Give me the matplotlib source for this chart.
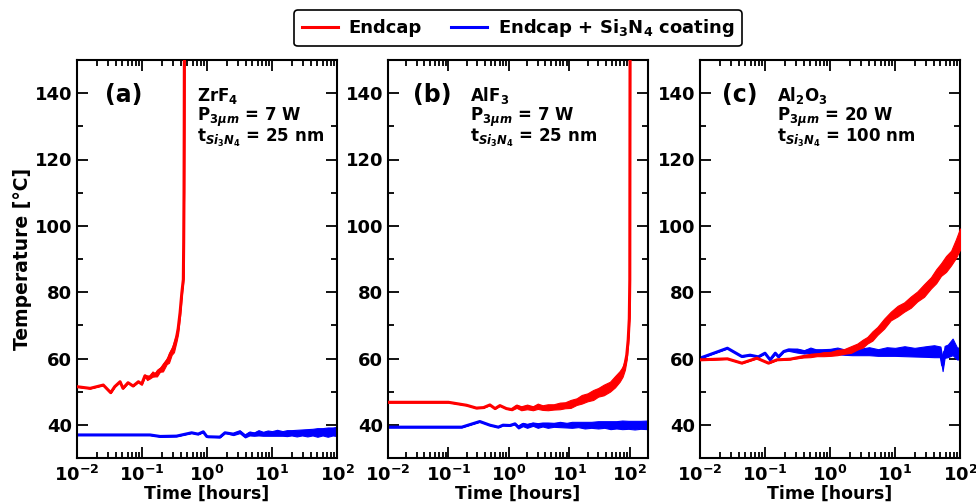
import numpy as np
import matplotlib
matplotlib.use("Agg")
import matplotlib.pyplot as plt
from matplotlib.ticker import LogLocator, MultipleLocator, NullFormatter

plt.rcParams['font.family'] = ['DejaVu Sans']
plt.rcParams['font.weight'] = 'bold'
plt.rcParams['axes.labelweight'] = 'bold'
plt.rcParams['mathtext.fontset'] = 'custom'
plt.rcParams['mathtext.default'] = 'regular'
plt.rcParams['mathtext.rm'] = 'DejaVu Sans:bold'
plt.rcParams['mathtext.bf'] = 'DejaVu Sans:bold'
plt.rcParams['mathtext.it'] = 'DejaVu Sans:italic:bold'

# ---------------- data ----------------
# T = centre temperature, W = half-width of the noisy band
# Panel (a) ZrF4
a_red_t = [0.01, 0.0159, 0.0254, 0.033, 0.038, 0.046, 0.051, 0.061, 0.073, 0.088, 0.099,
           0.111, 0.12, 0.133, 0.145, 0.158, 0.17, 0.189, 0.21, 0.24, 0.26, 0.286, 0.31,
           0.342, 0.36, 0.385, 0.41, 0.432, 0.438, 0.443, 0.446, 0.448, 0.45]
a_red_T = [51.5, 51.0, 52.0, 49.7, 51.5, 53.0, 51.0, 52.7, 51.7, 53.0, 52.3,
           54.8, 54.2, 54.4, 55.3, 55.1, 55.6, 56.6, 57.3, 59.1, 60.2, 62.1, 63.5,
           66.6, 69.0, 73.8, 79.8, 83.8, 95.0, 110.0, 130.0, 150.0, 160.0]
a_red_W = [0, 0, 0, 0, 0, 0, 0, 0, 0, 0, 0.2,
           0.3, 0.7, 0.4, 0.8, 0.5, 1.0, 0.6, 1.2, 0.8, 1.5, 1.0, 1.6,
           1.2, 1.4, 1.0, 0.8, 0.5, 0, 0, 0, 0, 0]

a_blu_t = [0.01, 0.05, 0.133, 0.19, 0.34, 0.58, 0.73, 0.877, 0.99, 1.05, 1.58, 1.89,
           2.54, 3.2, 3.85, 4.5, 5.3, 6.2, 7.3, 8.6, 10.0, 12.0, 14.5, 17.0, 20.0, 24.0,
           29.0, 35.0, 42.0, 50.0, 60.0, 72.0, 86.0, 100.0]
a_blu_T = [36.95, 36.95, 36.95, 36.5, 36.6, 37.6, 37.2, 37.9, 36.5, 36.4, 36.3, 37.6,
           37.2, 37.9, 36.6, 37.4, 37.2, 37.6, 37.3, 37.5, 37.4, 37.6, 37.4, 37.5, 37.6, 37.5,
           37.7, 37.6, 37.8, 37.7, 37.9, 37.8, 38.0, 38.0]
a_blu_W = [0, 0, 0, 0, 0, 0, 0, 0, 0, 0, 0, 0,
           0.3, 0.4, 0.4, 0.6, 0.5, 0.8, 0.6, 0.8, 0.7, 0.9, 0.7, 0.9, 0.8, 1.0,
           0.9, 1.1, 1.0, 1.3, 1.1, 1.4, 1.2, 1.4]

# Panel (b) AlF3
b_red_t = [0.01, 0.05, 0.1, 0.2, 0.29, 0.38, 0.485, 0.59, 0.71, 0.91,
           1.11, 1.34, 1.6, 2.0, 2.5, 3.0, 3.6, 4.4, 5.5, 6.97, 8.5, 10.5, 13.2, 16.0,
           20.0, 24.8, 30.0, 37.0, 47.0, 57.0, 68.0, 76.0, 83.0, 89.0, 94.0, 98.0,
           100.0, 101.0]
b_red_T = [46.8, 46.8, 46.8, 45.9, 45.05, 45.2, 46.0, 44.9, 45.8, 44.9,
           44.6, 45.6, 45.0, 45.4, 45.0, 45.6, 45.2, 45.3, 45.4, 45.7, 45.9, 46.3, 47.0, 47.7,
           48.3, 49.0, 49.8, 50.5, 51.5, 53.0, 54.6, 56.0, 58.1, 61.0, 65.6, 72.0,
           83.8, 160.0]
b_red_W = [0, 0, 0, 0, 0, 0, 0, 0, 0, 0,
           0.2, 0.5, 0.6, 0.7, 0.6, 0.8, 0.7, 0.9, 0.8, 1.0, 0.9, 1.2, 1.0, 1.3,
           1.2, 1.5, 1.3, 1.6, 1.5, 1.7, 1.6, 1.5, 1.5, 1.2, 1.0, 0.6,
           0, 0]

b_blu_t = [0.01, 0.08, 0.166, 0.33, 0.485, 0.667, 0.8, 1.04,
           1.26, 1.43, 1.7, 2.0, 2.5, 3.0, 3.6, 4.4, 5.5, 7.0, 9.0, 11.0, 14.0, 18.0,
           23.0, 30.0, 38.0, 48.0, 60.0, 75.0, 95.0, 120.0, 150.0, 200.0]
b_blu_T = [39.3, 39.3, 39.3, 41.0, 39.9, 39.3, 39.9, 39.8,
           40.3, 39.3, 40.1, 39.7, 40.2, 39.8, 40.1, 39.9, 40.0, 40.1, 39.9, 40.0, 40.1, 39.9,
           40.0, 40.0, 40.1, 39.9, 40.0, 40.0, 40.0, 39.9, 40.0, 40.0]
b_blu_W = [0, 0, 0, 0, 0, 0, 0, 0,
           0.2, 0.4, 0.5, 0.6, 0.5, 0.7, 0.6, 0.8, 0.6, 0.8, 0.7, 0.9, 0.8, 1.0,
           0.9, 1.1, 1.0, 1.2, 1.1, 1.3, 1.2, 1.3, 1.2, 1.3]

# Panel (c) Al2O3
c_red_t = [0.01, 0.0264, 0.044, 0.075, 0.113, 0.153, 0.245,
           0.39, 0.5, 0.63, 0.8, 1.02, 1.3, 1.63, 2.1, 2.63, 3.2, 3.75, 4.5, 5.35, 6.8,
           8.6, 11.0, 13.8, 17.5, 22.0, 28.0, 35.7, 43.0, 51.0, 61.0, 73.0, 86.0, 100.0]
c_red_T = [59.6, 59.9, 58.6, 60.1, 58.6, 59.6, 59.8,
           60.6, 60.9, 61.1, 61.3, 61.4, 61.8, 62.1, 62.7, 63.6, 64.5, 65.5, 66.8, 68.3, 70.5,
           72.8, 74.3, 75.5, 77.0, 78.7, 80.5, 82.8, 84.8, 86.8, 88.5, 90.3, 93.0, 96.0]
c_red_W = [0, 0, 0, 0, 0, 0, 0,
           0.3, 0.5, 0.4, 0.6, 0.6, 0.8, 0.7, 1.0, 0.9, 1.2, 1.0, 1.4, 1.2, 1.5,
           1.3, 1.6, 1.4, 1.7, 1.5, 1.9, 1.7, 2.1, 1.9, 2.4, 2.2, 2.8, 3.2]

c_blu_t = [0.01, 0.0264, 0.044, 0.059, 0.079, 0.1, 0.12, 0.144, 0.162, 0.194,
           0.231, 0.31, 0.4, 0.5, 0.6, 0.75, 1.0, 1.3, 1.7, 2.2, 3.0, 4.0, 5.5, 7.5,
           10.0, 14.0, 20.0, 30.0, 40.0, 50.0, 54.0, 58.0, 65.0, 77.0, 90.0, 100.0]
c_blu_T = [60.1, 63.1, 60.6, 61.0, 60.5, 61.6, 59.6, 61.6, 60.5, 62.1,
           62.6, 62.4, 62.0, 62.5, 62.2, 61.9, 62.1, 62.3, 61.9, 62.1, 62.0, 62.2, 61.8, 62.1,
           62.0, 62.2, 61.9, 62.1, 62.2, 62.0, 58.0, 62.0, 62.3, 63.5, 61.5, 61.5]
c_blu_W = [0, 0, 0, 0, 0, 0, 0, 0, 0, 0,
           0.3, 0.6, 0.5, 0.8, 0.6, 0.9, 0.8, 1.0, 0.8, 1.1, 1.0, 1.2, 1.0, 1.3,
           1.2, 1.5, 1.3, 1.6, 1.8, 1.6, 1.8, 1.8, 1.9, 2.5, 1.8, 1.8]

panels = [
    dict(tag='(a)', lines=['ZrF$_4$', 'P$_{3\\mathit{\\mu m}}$ = 7 W',
                            't$_{\\mathit{Si_3N_4}}$ = 25 nm'],
         xmax=100, red=(a_red_t, a_red_T, a_red_W), blu=(a_blu_t, a_blu_T, a_blu_W),
         tagx=0.108, txtx=0.46),
    dict(tag='(b)', lines=['AlF$_3$', 'P$_{3\\mathit{\\mu m}}$ = 7 W',
                            't$_{\\mathit{Si_3N_4}}$ = 25 nm'],
         xmax=200, red=(b_red_t, b_red_T, b_red_W), blu=(b_blu_t, b_blu_T, b_blu_W),
         tagx=0.096, txtx=0.315),
    dict(tag='(c)', lines=['Al$_2$O$_3$', 'P$_{3\\mathit{\\mu m}}$ = 20 W',
                            't$_{\\mathit{Si_3N_4}}$ = 100 nm'],
         xmax=100, red=(c_red_t, c_red_T, c_red_W), blu=(c_blu_t, c_blu_T, c_blu_W),
         tagx=0.085, txtx=0.296),
]

RED = '#ff0000'
BLUE = '#0000ff'

fig = plt.figure(figsize=(9.76, 5.03), dpi=100)
W, H = 976, 503
lefts = [77, 388, 700]
aw = 260
bottom, top = 458, 60

for i, p in enumerate(panels):
    ax = fig.add_axes([lefts[i] / W, 1 - bottom / H, aw / W, (bottom - top) / H])
    for key, col, z in [('blu', BLUE, 2), ('red', RED, 3)]:
        t, T, Wd = (np.array(v, dtype=float) for v in p[key])
        ax.fill_between(t, T - Wd, T + Wd, color=col, lw=0.8, zorder=z)
        ln, = ax.plot(t, T, color=col, lw=2.2, zorder=z)
        if key == 'red':
            h_red = ln
        else:
            h_blu = ln
    ax.set_xscale('log')
    ax.set_xlim(0.01, p['xmax'])
    ax.set_ylim(30, 150)
    ax.yaxis.set_minor_locator(MultipleLocator(10))
    ax.set_yticks([40, 60, 80, 100, 120, 140])
    ax.xaxis.set_major_locator(LogLocator(base=10, numticks=10))
    ax.xaxis.set_minor_locator(LogLocator(base=10, subs=np.arange(2, 10), numticks=20))
    ax.xaxis.set_minor_formatter(NullFormatter())
    ax.tick_params(which='both', direction='in', top=True, right=True, width=1.3,
                   labelsize=13)
    ax.tick_params(which='major', length=8)
    ax.tick_params(which='minor', length=4)
    ax.tick_params(axis='x', pad=5)
    for lab in ax.get_xticklabels() + ax.get_yticklabels():
        lab.set_fontweight('bold')
    for s in ax.spines.values():
        s.set_linewidth(1.5)
    ax.set_xlabel('Time [hours]', fontsize=12.5, fontweight='bold', labelpad=0)
    if i == 0:
        ax.set_ylabel('Temperature [°C]', fontsize=13.5, fontweight='bold', labelpad=2)
    ax.text(p['tagx'], 0.912, p['tag'], transform=ax.transAxes, fontsize=17,
            fontweight='bold', va='center', ha='left')
    for k, s in enumerate(p['lines']):
        ax.text(p['txtx'], 0.91 - k * 0.053, s, transform=ax.transAxes, fontsize=12,
                fontweight='bold', va='center', ha='left')

leg = fig.legend([h_red, h_blu], ['Endcap', 'Endcap + Si$_3$N$_4$ coating'],
                 loc='upper center', bbox_to_anchor=(518 / W, 1 - 1 / H), ncol=2,
                 fontsize=13, frameon=True, fancybox=True, edgecolor='black',
                 framealpha=1, handlelength=2.0, columnspacing=1.6,
                 borderpad=0.4, handletextpad=0.6)
leg.get_frame().set_linewidth(1.2)
for txt in leg.get_texts():
    txt.set_fontweight('bold')

fig.savefig('out.png', dpi=100)
